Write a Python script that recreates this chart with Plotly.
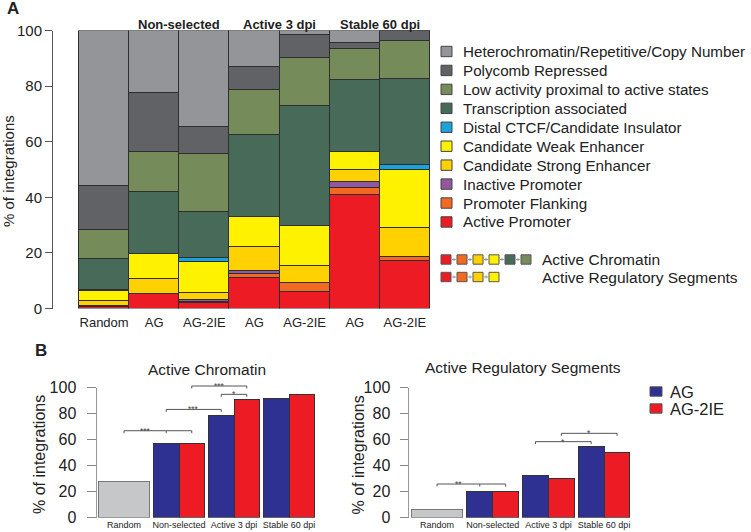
import plotly.graph_objects as go

# ---------------- DATA ----------------
samples_A = ["Random", "AG", "AG-2IE", "AG", "AG-2IE", "AG", "AG-2IE"]
groups_A = ["Non-selected", "Active 3 dpi", "Stable 60 dpi"]

# chromatin states, bottom -> top of stack (% of integrations)
active_promoter   = [0.8, 5.5, 2.2, 11.3, 6.2, 41.1, 17.1]
promoter_flanking = [0.2, 0.0, 0.3, 1.2, 3.2, 2.3, 1.6]
inactive_promoter = [0.0, 0.0, 0.9, 1.0, 0.0, 2.2, 0.0]
strong_enhancer   = [2.0, 5.4, 2.4, 8.8, 6.1, 4.5, 10.4]
weak_enhancer     = [3.5, 8.9, 11.0, 10.8, 14.4, 6.3, 21.0]
ctcf_insulator    = [0.3, 0.0, 1.4, 0.0, 0.0, 0.0, 1.6]
transcription     = [11.3, 22.4, 16.8, 29.6, 43.1, 26.1, 31.0]
low_activity      = [10.3, 14.2, 20.8, 16.2, 17.4, 11.0, 13.7]
polycomb          = [16.0, 21.4, 9.8, 8.2, 8.0, 2.2, 3.6]
heterochromatin   = [55.6, 22.2, 34.4, 12.9, 1.6, 4.3, 0.0]

state_names = ["Active Promoter", "Promoter Flanking", "Inactive Promoter",
               "Candidate Strong Enhancer", "Candidate Weak Enhancer",
               "Distal CTCF/Candidate Insulator", "Transcription associated",
               "Low activity proximal to active states", "Polycomb Repressed",
               "Heterochromatin/Repetitive/Copy Number"]
state_values = [active_promoter, promoter_flanking, inactive_promoter, strong_enhancer,
                weak_enhancer, ctcf_insulator, transcription, low_activity, polycomb,
                heterochromatin]
state_colors = ["#ed1c24", "#f26a21", "#93579f", "#ffd100", "#fff200", "#1ba1dc",
                "#476a59", "#768b5a", "#616265", "#939598"]

active_chromatin_idx = [0, 1, 3, 4, 6, 7]
active_regulatory_idx = [0, 1, 3, 4]
combo_labels = ["Active Chromatin", "Active Regulatory Segments"]

groups_B = ["Random", "Non-selected", "Active 3 dpi", "Stable 60 dpi"]
series_B = ["AG", "AG-2IE"]
chromatin_random = 28.0
chromatin_AG = [56.6, 78.5, 91.5]
chromatin_AG2IE = [56.6, 91.0, 95.0]
regulatory_random = 6.4
regulatory_AG = [20.0, 32.3, 54.6]
regulatory_AG2IE = [20.0, 30.0, 50.0]

# significance comparisons: (bars, height, label)
sig_chromatin = [(["R", "AG1", "IE1"], 66.9, "***"), (["AG1", "AG2"], 83.3, "***"),
                 (["IE1", "IE2"], 101.3, "***"), (["AG2", "IE2"], 94.9, "*")]
sig_regulatory = [(["R", "AG1", "IE1"], 25.9, "**"), (["AG2", "AG3"], 58.5, "*"),
                  (["IE2", "IE3"], 64.9, "*")]

# ---------------- LAYOUT HELPERS ----------------
W, H = 751, 532
def fx(p): return p / W
def fy(p): return 1 - p / H

FONT = "Liberation Sans, Arial, sans-serif"
fig = go.Figure()

# ---------------- PANEL A ----------------
xs = list(range(len(samples_A)))
for name, vals, col in zip(state_names, state_values, state_colors):
    fig.add_bar(x=xs, y=vals, width=1, name=name, showlegend=False,
                marker=dict(color=col, line=dict(color="#2e2e2e", width=1)),
                xaxis="x", yaxis="y")

# ---------------- PANEL B ----------------
BW_R, BW_P = 0.91, 0.464
def bar_x(key):
    if key == "R":
        return 0
    g = int(key[-1])
    return g - BW_P / 2 if key.startswith("AG") else g + BW_P / 2

def panel_b(xa, ya, rnd, ag, ie):
    fig.add_bar(x=[0], y=[rnd], width=BW_R, showlegend=False, name="Random",
                marker=dict(color="#c6c7c9", line=dict(color="#777", width=1)),
                xaxis=xa, yaxis=ya)
    fig.add_bar(x=[bar_x("AG%d" % (i + 1)) for i in range(3)], y=ag, width=BW_P,
                showlegend=False, name=series_B[0],
                marker=dict(color="#2e3192", line=dict(color="#333", width=1)),
                xaxis=xa, yaxis=ya)
    fig.add_bar(x=[bar_x("IE%d" % (i + 1)) for i in range(3)], y=ie, width=BW_P,
                showlegend=False, name=series_B[1],
                marker=dict(color="#ed1c24", line=dict(color="#333", width=1)),
                xaxis=xa, yaxis=ya)

panel_b("x2", "y2", chromatin_random, chromatin_AG, chromatin_AG2IE)
panel_b("x3", "y3", regulatory_random, regulatory_AG, regulatory_AG2IE)

# axis geometry (pixels)
A_left, A_right, A_top, A_bot = 53, 430, 30.5, 308.5
A_bar0 = 79  # left edge of first bar
A_unit = (A_right - A_bar0) / len(samples_A)
BL = dict(left=96.5, right=318, c0=124, unit=55.0)
BR = dict(left=408.5, right=632, c0=437, unit=55.7)
B_top, B_bot = 387.7, 517.7

def rng(p):
    return [(p["left"] - p["c0"]) / p["unit"], (p["right"] - p["c0"]) / p["unit"]]

ax_common = dict(showgrid=False, zeroline=False, automargin=False)
fig.update_layout(
    width=W, height=H, margin=dict(l=0, r=0, t=0, b=0, autoexpand=False),
    paper_bgcolor="white", plot_bgcolor="white", barmode="stack", bargap=0,
    font=dict(family=FONT, color="#222"),
    xaxis=dict(domain=[fx(A_left), fx(A_right)],
               range=[-0.5 - (A_bar0 - A_left) / A_unit, len(samples_A) - 0.5],
               tickvals=xs, ticktext=samples_A, ticks="", showline=False,
               tickfont=dict(size=13), ticklabelstandoff=4, anchor="y", **ax_common),
    yaxis=dict(domain=[fy(A_bot), fy(A_top)], range=[0, 100], tickvals=list(range(0, 101, 20)),
               ticks="outside", ticklen=7, tickcolor="#555", showline=True, linecolor="#555",
               linewidth=1, tickfont=dict(size=15), anchor="x", **ax_common),
    xaxis2=dict(domain=[fx(BL["left"]), fx(BL["right"])], range=rng(BL),
                tickvals=list(range(4)), ticktext=groups_B, ticks="", showline=False,
                tickfont=dict(size=9), anchor="y2", **ax_common),
    yaxis2=dict(domain=[fy(B_bot), fy(B_top)], range=[0, 100], tickvals=list(range(0, 101, 20)),
                ticks="outside", ticklen=9, tickcolor="#888", showline=True, linecolor="#999",
                linewidth=1, tickfont=dict(size=16), ticklabelstandoff=7, anchor="x2", **ax_common),
    xaxis3=dict(domain=[fx(BR["left"]), fx(BR["right"])], range=rng(BR),
                tickvals=list(range(4)), ticktext=groups_B, ticks="", showline=False,
                tickfont=dict(size=9), anchor="y3", **ax_common),
    yaxis3=dict(domain=[fy(B_bot), fy(B_top)], range=[0, 100], tickvals=list(range(0, 101, 20)),
                ticks="outside", ticklen=8, tickcolor="#888", showline=True, linecolor="#999",
                linewidth=1, tickfont=dict(size=16), ticklabelstandoff=6, anchor="x3", **ax_common),
)

shapes, annots = [], []

def txt(x, y, s, size, **kw):
    d = dict(x=x, y=y, text=s, showarrow=False,
             font=dict(size=size, family=FONT, color=kw.pop("color", "#222")),
             xref=kw.pop("xref", "paper"), yref=kw.pop("yref", "paper"),
             xanchor="center", yanchor="middle")
    d.update(kw)
    annots.append(d)

def rect(x0, y0, x1, y1, col, lc="#333"):
    shapes.append(dict(type="rect", xref="paper", yref="paper", x0=fx(x0), x1=fx(x1),
                       y0=fy(y1), y1=fy(y0), fillcolor=col, line=dict(color=lc, width=1)))

# panel labels and titles
txt(fx(12.5), fy(9), "<b>A</b>", 17)
txt(fx(41), fy(350.5), "<b>B</b>", 17)
txt(fx(9), fy(171), "% of integrations", 15, textangle=-90)
txt(fx(39), fy(455), "% of integrations", 16, textangle=-90)
txt(fx(357.5), fy(455), "% of integrations", 16, textangle=-90)
txt(fx(207), fy(369), "Active Chromatin", 15.5)
txt(fx(523), fy(367), "Active Regulatory Segments", 15.5)
for i, g in enumerate(groups_A):
    txt(1.5 + 2 * i, fy(24), "<b>%s</b>" % g, 13, xref="x")

# panel A legend
leg_x0, leg_y0, leg_dy = 441, 51.5, 18.94
for k, i in enumerate(reversed(range(len(state_names)))):
    cy = leg_y0 + k * leg_dy
    rect(leg_x0, cy - 5.2, leg_x0 + 11, cy + 5.2, state_colors[i], "#444")
    txt(fx(461), fy(cy), state_names[i], 15.2, xanchor="left")

for r, (idxs, lab) in enumerate(zip([active_chromatin_idx, active_regulatory_idx], combo_labels)):
    cy = 259.5 + r * 17.5
    for j, i in enumerate(idxs):
        x0 = leg_x0 + 16 * j
        rect(x0, cy - 4.7, x0 + 10, cy + 4.7, state_colors[i], "#555")
        if j > 0:
            shapes.append(dict(type="line", xref="paper", yref="paper", x0=fx(x0 - 5), x1=fx(x0 - 1),
                               y0=fy(cy), y1=fy(cy), line=dict(color="#999", width=1)))
            shapes.append(dict(type="line", xref="paper", yref="paper", x0=fx(x0 - 3), x1=fx(x0 - 3),
                               y0=fy(cy - 1.5), y1=fy(cy + 1.5), line=dict(color="#999", width=1)))
    txt(fx(540), fy(cy), lab, 15.5, xanchor="left")

# panel B legend
for k, (s, col) in enumerate(zip(series_B, ["#2e3192", "#ed1c24"])):
    cy = 391.5 + k * 17
    rect(650, cy - 4.7, 662, cy + 4.7, col, "#555")
    txt(fx(668), fy(cy), s, 16.5, xanchor="left")

# significance brackets
def brackets(comps, xa):
    for keys, h, lab in comps:
        yp = fy(B_bot) + h / 100 * (fy(B_top) - fy(B_bot))
        xsb = [bar_x(k) for k in keys]
        shapes.append(dict(type="line", xref=xa, yref="paper", x0=xsb[0], x1=xsb[-1], y0=yp, y1=yp,
                           line=dict(color="#555", width=1)))
        for xv in xsb:
            shapes.append(dict(type="line", xref=xa, yref="paper", x0=xv, x1=xv, y0=yp, y1=yp - 2.5 / H,
                               line=dict(color="#555", width=1)))
        annots.append(dict(x=(xsb[0] + xsb[1]) / 2, y=yp, xref=xa, yref="paper", text=lab,
                           showarrow=False, xanchor="center", yanchor="middle",
                           font=dict(size=8.5, color="#444", family=FONT)))

brackets(sig_chromatin, "x2")
brackets(sig_regulatory, "x3")

fig.update_layout(shapes=shapes, annotations=annots)
fig.write_html("out.html", config={"displayModeBar": False},
               post_script="document.body.style.margin='0';document.body.style.padding='0';")
